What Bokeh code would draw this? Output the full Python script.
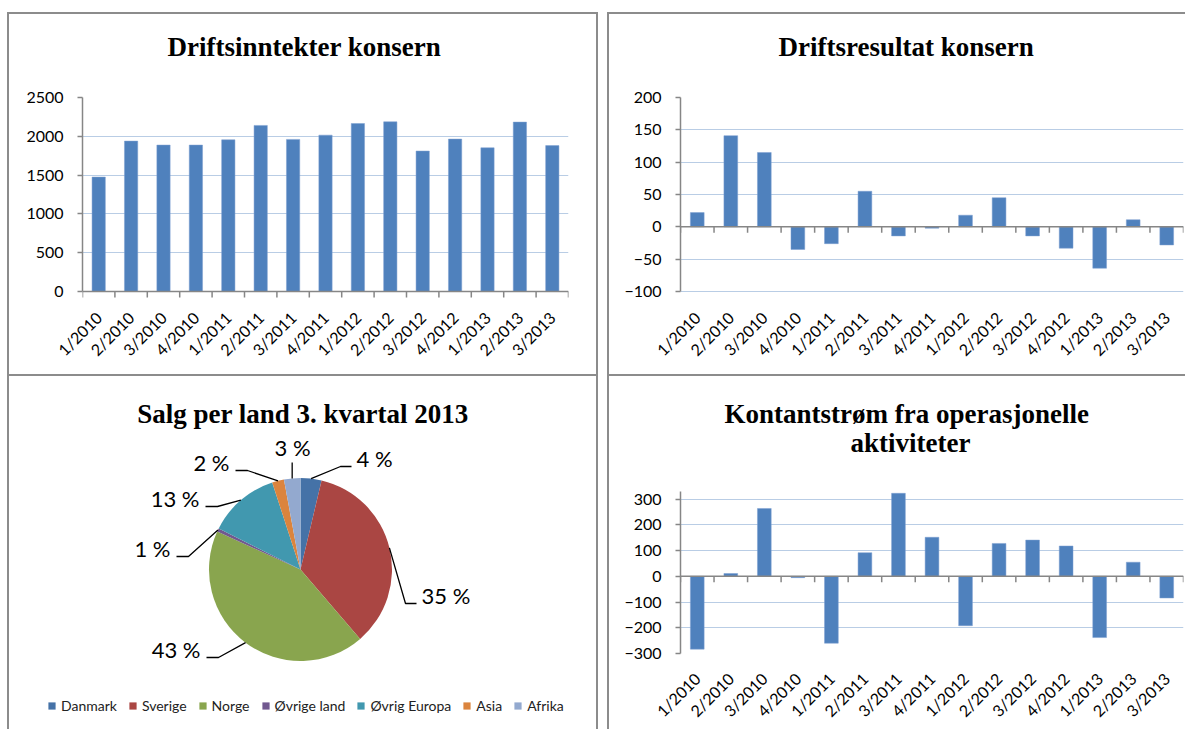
import math
from bokeh.plotting import figure
from bokeh.models import (FactorRange, Range1d, Span, Legend, LegendItem, Title, Div,
                          SingleIntervalTicker, Spacer)
from bokeh.layouts import row, column
from bokeh.embed import file_html
from bokeh.resources import INLINE
from bokeh.core.properties import value

# ---------------- data ----------------
quarters = ["1/2010", "2/2010", "3/2010", "4/2010", "1/2011", "2/2011", "3/2011", "4/2011",
            "1/2012", "2/2012", "3/2012", "4/2012", "1/2013", "2/2013", "3/2013"]
driftsinntekter = [1475, 1938, 1887, 1887, 1955, 2140, 1960, 2015, 2165, 2187, 1810, 1964, 1852, 2183, 1880]
driftsresultat = [22, 141, 115, -35, -26, 55, -14, -2, 18, 45, -14, -33, -64, 11, -28]
kontantstrom = [-283, 11, 264, -5, -260, 92, 323, 152, -192, 128, 141, 118, -238, 55, -84]

countries = ["Danmark", "Sverige", "Norge", "Øvrige land", "Øvrig Europa", "Asia", "Afrika"]
shares = [3.7, 35.0, 43.1, 0.6, 12.6, 2.1, 2.9]
share_labels = ["4 %", "35 %", "43 %", "1 %", "13 %", "2 %", "3 %"]

title_inntekter = "Driftsinntekter konsern"
title_resultat = "Driftsresultat konsern"
title_salg = "Salg per land 3. kvartal 2013"
title_kontant_1 = "Kontantstrøm fra operasjonelle"
title_kontant_2 = "aktiviteter"

# ---------------- style ----------------
BAR = "#4F81BD"
AXIS = "#868686"
GRID = "#b9cde5"
BORDER_COLOR = "#8c8c8c"
SANS = "Lato"
SERIF = "Liberation Serif"
TITLE_SIZE = "27px"
pie_colors = ["#4572A7", "#AA4643", "#89A54E", "#71588F", "#4198AF", "#DB843D", "#93A9CF"]
# label anchor (x, y in pie pixel coords) and alignment
pie_label_pos = [(56, 111, "left"), (121, -26, "left"), (-100, -80, "right"),
                 (-130, 21, "right"), (-101, 71, "right"), (-71, 107, "right"), (-8, 122, "center")]
PIE_R = 91.5


def no_align(p):
    try:
        p.frame_align = False
    except Exception:
        pass


def make_title(text, offset, standoff):
    return Title(text=text, align="left", offset=offset, standoff=standoff,
                 text_font=SERIF, text_font_style="bold", text_font_size=TITLE_SIZE,
                 text_color="black", text_line_height=1.0)


def title_gap(p, standoff=31):
    # invisible spacer between the frame and the title
    p.add_layout(Title(text=" ", text_font_size="2px", text_line_height=1.0,
                       standoff=standoff), "above")


def bar_panel(values, y0, y1, interval, width, height, borders, standoff_x, bounds=None):
    p = figure(x_range=FactorRange(*quarters), y_range=Range1d(y0, y1),
               width=width, height=height, output_backend="svg", toolbar_location=None,
               min_border_left=borders[0], min_border_right=borders[1],
               min_border_top=borders[2], min_border_bottom=borders[3], title=None)
    no_align(p)
    p.outline_line_color = None
    p.vbar(x=quarters, top=values, bottom=0, width=0.41, fill_color=BAR,
           line_color="#7d9fd0", line_width=0.5)
    # category axis line at zero, with tick marks between categories
    p.add_layout(Span(location=0, dimension="width", line_color=AXIS, line_width=1.5))
    p.ray(x=list(range(len(quarters) + 1)), y=0, length=6, length_units="screen",
          angle=-math.pi / 2, line_color=AXIS, line_width=1.5)

    xa = p.xaxis[0]
    xa.axis_line_color = None
    xa.major_tick_line_color = None
    xa.minor_tick_line_color = None
    xa.major_tick_out = 0
    xa.major_tick_in = 0
    xa.major_label_orientation = math.pi / 4
    xa.major_label_text_font = SANS
    xa.major_label_text_font_size = "16px"
    xa.major_label_text_color = "black"
    xa.major_label_standoff = standoff_x

    ya = p.yaxis[0]
    ya.ticker = SingleIntervalTicker(interval=interval)
    ya.axis_line_color = AXIS
    ya.axis_line_width = 1.5
    ya.major_tick_line_color = AXIS
    ya.major_tick_line_width = 1.5
    ya.major_tick_out = 5
    ya.major_tick_in = 0
    ya.minor_tick_line_color = None
    ya.major_label_text_font = SANS
    ya.major_label_text_font_size = "16px"
    ya.major_label_text_color = "black"
    ya.major_label_standoff = 14
    if bounds is not None:
        ya.bounds = bounds

    p.xgrid.visible = False
    p.ygrid.grid_line_color = GRID
    p.ygrid.grid_line_width = 1
    return p


# top-left: frame 82..568 x, 97..298 y (0 at 291)
p1 = bar_panel(driftsinntekter, -90.2, 2500, 500, 587, 360, (73, 28, 83, 76), 16, bounds=(0, 2500))
title_gap(p1)
p1.add_layout(make_title(title_inntekter, 85, 2), "above")

# top-right
p2 = bar_panel(driftsresultat, -110.8, 200, 50, 576, 360, (71, 2, 83, 76), 16, bounds=(-100, 200))
title_gap(p2)
p2.add_layout(make_title(title_resultat, 98, 2), "above")

# bottom-right
p4 = bar_panel(kontantstrom, -300, 330, 100, 576, 353, (71, 2, 115, 75), 22)
title_gap(p4, 29)
p4.add_layout(make_title(title_kontant_2, 170, 2), "above")
p4.add_layout(make_title(title_kontant_1, 44, -8), "above")

# ---------------- pie ----------------
p3 = figure(x_range=Range1d(-291, 296), y_range=Range1d(-160, 193), width=587, height=353,
            min_border=0, output_backend="svg", toolbar_location=None, title=None)
no_align(p3)
p3.axis.visible = False
p3.grid.visible = False
p3.outline_line_color = None

total = sum(shares)
starts, ends, mids = [], [], []
cum = 0.0
for s in shares:
    a0 = 90 - 360 * cum / total
    a1 = 90 - 360 * (cum + s) / total
    starts.append(math.radians(a0))
    ends.append(math.radians(a1))
    mids.append(math.radians((a0 + a1) / 2))
    cum += s

items = []
for i, c in enumerate(countries):
    r = p3.wedge(x=0, y=0, radius=PIE_R, start_angle=starts[i], end_angle=ends[i],
                 direction="clock", fill_color=pie_colors[i], line_color=None)
    items.append(LegendItem(label=c, renderers=[r]))

legend = Legend(items=items, orientation="horizontal", location=(38, 15),
                glyph_width=9, glyph_height=9, label_standoff=5, spacing=11,
                padding=0, margin=0, border_line_color=None, background_fill_alpha=0,
                label_text_font=SANS, label_text_font_size="14px", label_height=16,
                label_text_color="#222222")
p3.add_layout(legend, "center")

# leader lines + labels
xs, ys = [], []
for (lx, ly, al), m in zip(pie_label_pos, mids):
    sx, sy = PIE_R * math.cos(m), PIE_R * math.sin(m)
    if al == "left":
        ex, ey = lx - 5, ly - 8
        xs.append([sx, ex - 11, ex]); ys.append([sy, ey, ey])
    elif al == "right":
        ex, ey = lx + 6, ly - 8
        xs.append([sx, ex + 12, ex]); ys.append([sy, ey, ey])
    else:
        xs.append([sx, sx]); ys.append([sy, ly - 15])
p3.multi_line(xs=xs, ys=ys, line_color="black", line_width=1.3)

for al in ("left", "right", "center"):
    idx = [i for i, pos in enumerate(pie_label_pos) if pos[2] == al]
    p3.text(x=[pie_label_pos[i][0] for i in idx], y=[pie_label_pos[i][1] for i in idx],
            text=[share_labels[i] for i in idx], text_align=al, text_baseline="middle",
            text_font=value(SANS), text_font_size="22px", text_color="black")

p3.text(x=[2.5], y=[156], text=[title_salg], text_align="center", text_baseline="middle",
        text_font=value(SERIF), text_font_style="bold", text_font_size=TITLE_SIZE,
        text_color="black")


# ---------------- panel borders & layout ----------------
def line(w, h):
    return Div(text="", width=w, height=h, margin=0,
               styles={"background-color": BORDER_COLOR, "padding": "0", "margin": "0"})


tl = column(line(591, 2), row(line(2, 360), p1, line(2, 360)), line(591, 2))
tr = column(line(578, 2), row(line(2, 360), p2), line(578, 2))
bl = row(line(2, 353), p3, line(2, 353))
br = row(line(2, 353), p4)

layout = column(Spacer(height=12, margin=0),
                row(Spacer(width=7, margin=0), tl, Spacer(width=9, margin=0), tr),
                row(Spacer(width=7, margin=0), bl, Spacer(width=9, margin=0), br))

open("out.html", "w").write(file_html(layout, INLINE))
